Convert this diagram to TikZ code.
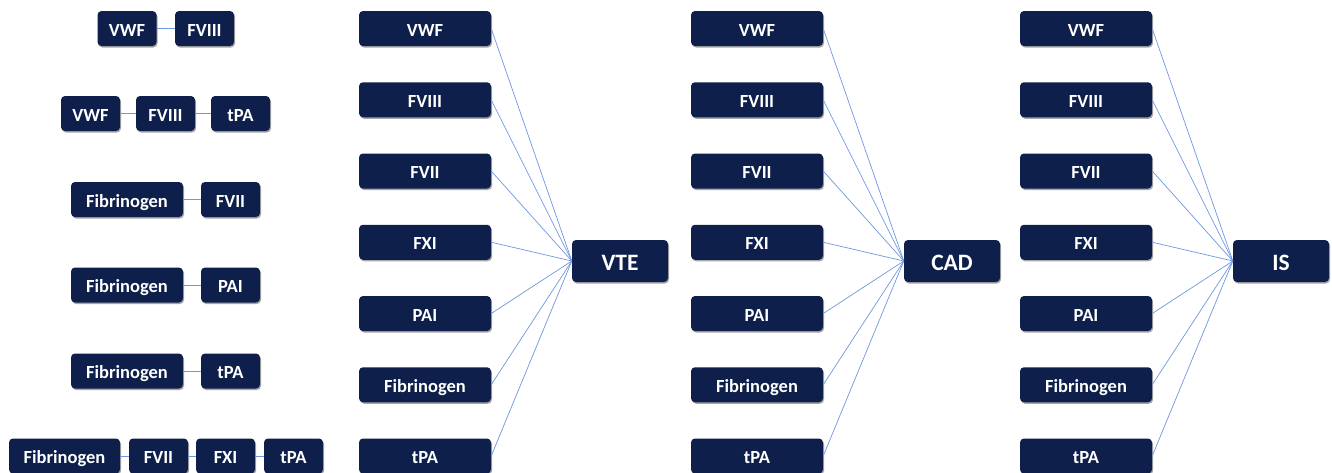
\documentclass[tikz,border=0pt]{standalone}
\usepackage{fontspec}
\setmainfont{Carlito}
\usetikzlibrary{shadows}
\definecolor{navy}{HTML}{0D1F4A}
\definecolor{link}{HTML}{6F96E0}
\begin{document}
\begin{tikzpicture}[x=1pt,y=-1pt,
  box/.style={fill=navy, rounded corners=4pt, inner sep=0pt, minimum height=35pt,
    text=white, font=\fontsize{18.5}{18.5}\selectfont\bfseries,
    text height=15pt, text depth=0pt,
    drop shadow={shadow xshift=1pt, shadow yshift=-1.5pt, opacity=0.35, fill=black}},
  sbox/.style={box, minimum width=59pt},
  wbox/.style={box, minimum width=112pt},
  cbox/.style={box, minimum width=132pt},
  tbox/.style={box, minimum width=96pt, minimum height=42pt,
    font=\fontsize{23.5}{23.5}\selectfont\bfseries, text height=19pt},
  conn/.style={draw=link, line width=0.7pt}]
\useasboundingbox (0,0) rectangle (1332,472);
% left column
\node[sbox] (a1) at (127,28.5) {VWF};
\node[sbox] (a2) at (204.5,28.5) {FVIII};
\node[sbox] (b1) at (90.5,113.5) {VWF};
\node[sbox] (b2) at (165.5,113.5) {FVIII};
\node[sbox] (b3) at (240.5,113.5) {tPA};
\node[wbox] (c1) at (127,199.5) {Fibrinogen};
\node[sbox] (c2) at (230.5,199.5) {FVII};
\node[wbox] (d1) at (127,285) {Fibrinogen};
\node[sbox] (d2) at (230.5,285) {PAI};
\node[wbox] (e1) at (127,371) {Fibrinogen};
\node[sbox] (e2) at (230.5,371) {tPA};
\node[wbox, minimum width=111pt] (f1) at (64.5,456) {Fibrinogen};
\node[sbox] (f2) at (158.5,456) {FVII};
\node[sbox] (f3) at (225.5,456) {FXI};
\node[sbox] (f4) at (293.5,456) {tPA};
\draw[conn] (a1) -- (a2);
\draw[conn] (b1) -- (b2);
\draw[conn] (b2) -- (b3);
\draw[conn] (c1) -- (c2);
\draw[conn] (d1) -- (d2);
\draw[conn] (e1) -- (e2);
\draw[conn] (f1) -- (f2);
\draw[conn] (f2) -- (f3);
\draw[conn] (f3) -- (f4);
% three columns
\foreach \cx/\tx/\tn/\tl in {425/620/vte/VTE, 757/952/cad/CAD, 1086/1281/is/IS}{
  \node[tbox] (\tn) at (\tx,261) {\tl};
  \foreach \lab [count=\i from 0] in {VWF,FVIII,FVII,FXI,PAI,Fibrinogen,tPA}{
    \node[cbox] (\tn\i) at (\cx,28.5+71.25*\i) {\lab};
    \draw[conn] (\tn\i.east) -- (\tn.west);
  }
}
\end{tikzpicture}
\end{document}
